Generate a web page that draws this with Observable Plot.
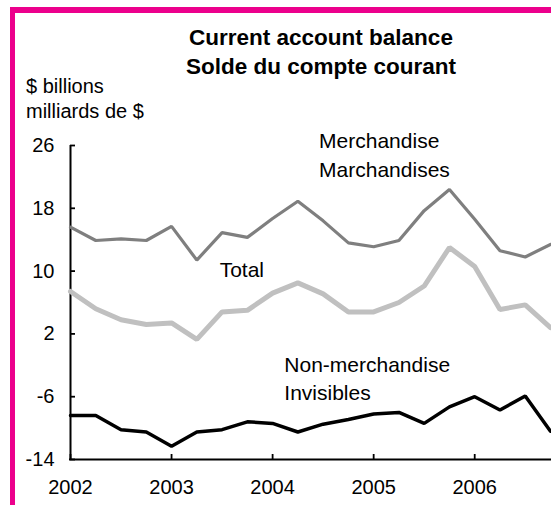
<!DOCTYPE html>
<html>
<head>
<meta charset="utf-8">
<script src="https://cdn.jsdelivr.net/npm/d3@7"></script>
<script src="https://cdn.jsdelivr.net/npm/@observablehq/plot@0.6"></script>
<style>
  html, body { margin: 0; padding: 0; background: #fff; }
  #wrap { position: relative; width: 551px; height: 505px; overflow: hidden; font-family: "Liberation Sans", Arial, Helvetica, sans-serif; color: #000; }
  #frame { position: absolute; left: 10px; top: 7px; width: 600px; height: 600px; border-left: 5px solid #ec008c; border-top: 6px solid #ec008c; box-sizing: border-box; }
  #chart { position: absolute; left: 0; top: 0; }
  .title { position: absolute; left: 121px; width: 400px; text-align: center; font-weight: bold; font-size: 22.5px; line-height: 29px; white-space: nowrap; }
  .unit { position: absolute; left: 26px; font-size: 20px; line-height: 25px; white-space: nowrap; }
</style>
</head>
<body>
<div id="wrap">
  <div id="frame"></div>
  <div id="chart"></div>
  <div class="title" id="t1" style="top:23px"></div>
  <div class="title" id="t2" style="top:52px"></div>
  <div class="unit" id="u1" style="top:74px"></div>
  <div class="unit" id="u2" style="top:99px"></div>
</div>
<script>
// ---- data ----
const titleLines = ["Current account balance", "Solde du compte courant"];
const unitLines = ["$ billions", "milliards de $"];
const periods = [
  "2002 Q1","2002 Q2","2002 Q3","2002 Q4",
  "2003 Q1","2003 Q2","2003 Q3","2003 Q4",
  "2004 Q1","2004 Q2","2004 Q3","2004 Q4",
  "2005 Q1","2005 Q2","2005 Q3","2005 Q4",
  "2006 Q1","2006 Q2","2006 Q3","2006 Q4"
];
const merchandise = [15.6,13.9,14.1,13.9,15.7,11.4,14.9,14.3,16.7,18.9,16.4,13.6,13.1,13.9,17.7,20.4,16.6,12.6,11.8,13.4];
const total       = [7.4,5.2,3.8,3.2,3.4,1.3,4.8,5.0,7.2,8.5,7.1,4.8,4.8,6.0,8.1,13.0,10.6,5.1,5.7,2.8];
const nonMerch    = [-8.4,-8.4,-10.2,-10.5,-12.3,-10.5,-10.2,-9.2,-9.4,-10.5,-9.5,-8.9,-8.2,-8.0,-9.4,-7.3,-6.0,-7.7,-5.9,-10.4];
const yTicks = [26, 18, 10, 2, -6, -14];
const xTicks = [2002, 2003, 2004, 2005, 2006];
const seriesNames = ["Merchandise\nMarchandises", "Total", "Non-merchandise\nInvisibles"];
// label anchor points (data coordinates: decimal year, $ billions)
const labelX = [2004.46, 2003.476, 2004.116];
const labelY = [28.2, 11.77, -0.24];

// ---- build tables ----
const toYear = p => +p.slice(0, 4) + (+p.slice(6) - 1) / 4;
const rows = (vals, s) => periods.map((p, i) => ({t: toYear(p), v: vals[i], s}));
const merchRows = rows(merchandise, "m");
const totalRows = rows(total, "t");
const nonRows = rows(nonMerch, "n");
const labels = seriesNames.map((name, i) => ({name, x: labelX[i], y: labelY[i]}));

document.getElementById("t1").textContent = titleLines[0];
document.getElementById("t2").textContent = titleLines[1];
document.getElementById("u1").textContent = unitLines[0];
document.getElementById("u2").textContent = unitLines[1];

const W = 551, H = 505, mL = 70, mR = 1, mT = 145, mB = 46;
const fw = W - mL - mR, fh = H - mT - mB;

const chart = Plot.plot({
  width: W, height: H,
  marginLeft: mL, marginRight: mR, marginTop: mT, marginBottom: mB,
  style: {fontFamily: "'Liberation Sans', Arial, Helvetica, sans-serif", fontSize: "20px", background: "transparent", color: "#000", overflow: "visible"},
  x: {domain: [2002, 2006.75]},
  y: {domain: [-14, 26]},
  marks: [
    Plot.axisY(yTicks, {tickSize: 0, tickPadding: 16, fontSize: 20, tickFormat: d => String(d), label: null}),
    Plot.axisX(xTicks, {tickSize: 0, tickPadding: 20, fontSize: 20, tickFormat: d => String(d), label: null}),
    Plot.tickY(yTicks, {y: d => d, insetRight: fw - 5, stroke: "#000", strokeWidth: 1.8}),
    Plot.tickX(xTicks, {x: d => d, insetTop: fh - 5, stroke: "#000", strokeWidth: 1.8}),
    Plot.ruleX([2002], {stroke: "#000", strokeWidth: 2, insetBottom: -1}),
    Plot.ruleY([-14], {stroke: "#000", strokeWidth: 2, insetLeft: -1, insetRight: -1}),
    Plot.line(merchRows, {x: "t", y: "v", stroke: "#7f7f7f", strokeWidth: 3.2, strokeLinejoin: "miter"}),
    Plot.line(totalRows, {x: "t", y: "v", stroke: "#c0c0c0", strokeWidth: 5, strokeLinejoin: "miter"}),
    Plot.line(nonRows, {x: "t", y: "v", stroke: "#000", strokeWidth: 3.5, strokeLinejoin: "miter"}),
    Plot.text(labels, {x: "x", y: "y", text: "name", textAnchor: "start", lineAnchor: "top", fontSize: 21, lineHeight: 1.35, fill: "#000"})
  ]
});
document.getElementById("chart").appendChild(chart);
</script>
</body>
</html>
